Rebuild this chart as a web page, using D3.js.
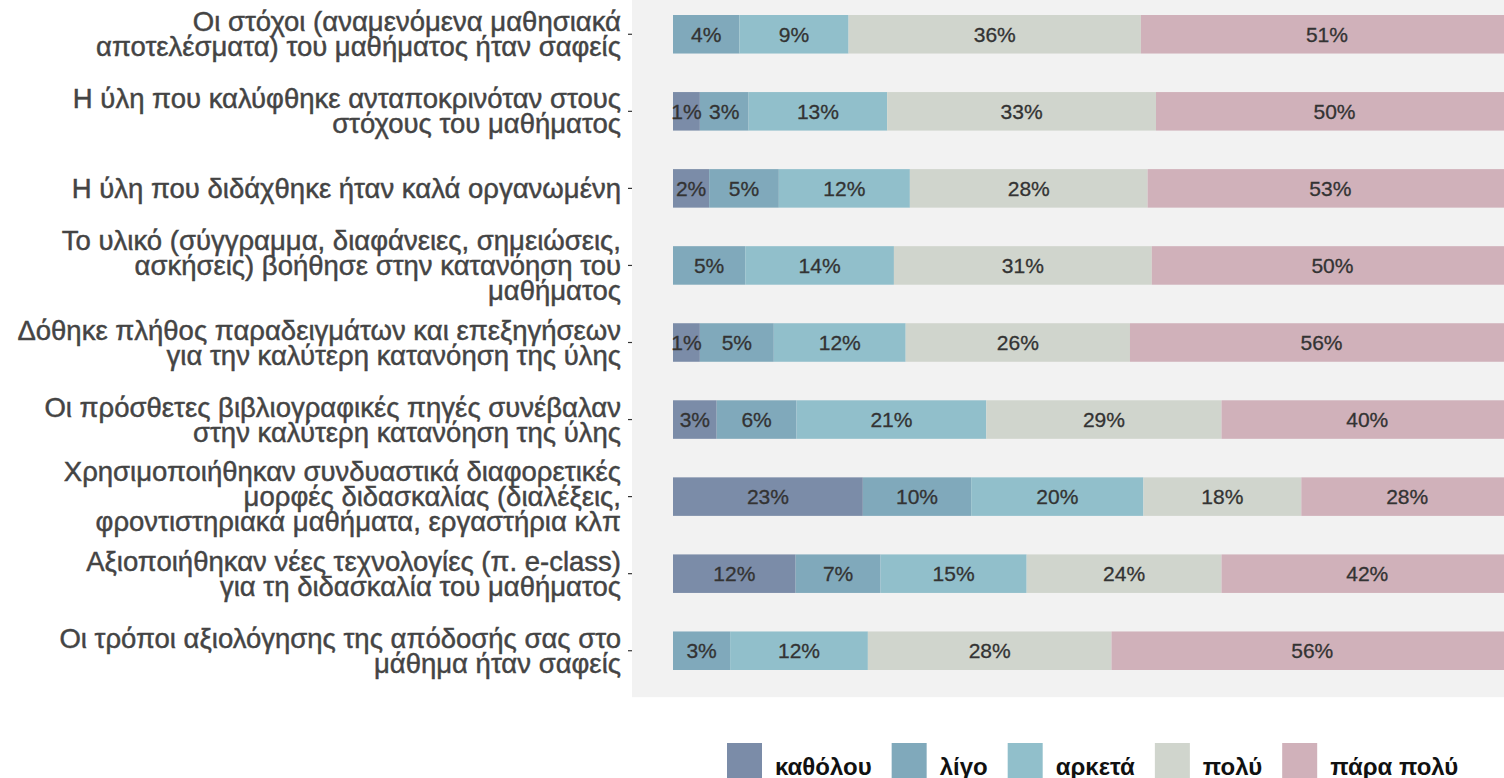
<!DOCTYPE html>
<html>
<head>
<meta charset="utf-8">
<script src="https://cdn.jsdelivr.net/npm/d3@7"></script>
<style>
  html, body { margin: 0; padding: 0; background: #ffffff; }
  svg { display: block; }
</style>
</head>
<body>
<svg id="chart" width="1504" height="778"></svg>
<script>
// ---------------- DATA ----------------
const categories = [
  "Οι στόχοι (αναμενόμενα μαθησιακά|αποτελέσματα) του μαθήματος ήταν σαφείς",
  "Η ύλη που καλύφθηκε ανταποκρινόταν στους|στόχους του μαθήματος",
  "Η ύλη που διδάχθηκε ήταν καλά οργανωμένη",
  "Το υλικό (σύγγραμμα, διαφάνειες, σημειώσεις,|ασκήσεις) βοήθησε στην κατανόηση του|μαθήματος",
  "Δόθηκε πλήθος παραδειγμάτων και επεξηγήσεων|για την καλύτερη κατανόηση της ύλης",
  "Οι πρόσθετες βιβλιογραφικές πηγές συνέβαλαν|στην καλύτερη κατανόηση της ύλης",
  "Χρησιμοποιήθηκαν συνδυαστικά διαφορετικές|μορφές διδασκαλίας (διαλέξεις,|φροντιστηριακά μαθήματα, εργαστήρια κλπ",
  "Αξιοποιήθηκαν νέες τεχνολογίες (π. e-class)|για τη διδασκαλία του μαθήματος",
  "Οι τρόποι αξιολόγησης της απόδοσής σας στο|μάθημα ήταν σαφείς"
];

const levels = ["καθόλου", "λίγο", "αρκετά", "πολύ", "πάρα πολύ"];

// segment lengths as drawn (share of the full bar)
const katholou   = [0.0,  3.2,  4.3,  0.0,  3.2,  5.2, 22.6, 14.6,  0.0];
const ligo       = [7.9,  5.8,  8.3,  8.6,  8.8,  9.5, 12.9, 10.1,  6.8];
const arketa     = [13.0, 16.5, 15.6, 17.7, 15.7, 22.6, 20.5, 17.4, 16.4];
const poly       = [34.8, 32.0, 28.3, 30.7, 26.7, 28.0, 18.8, 23.2, 29.0];
const paraPoly   = [44.3, 42.5, 43.5, 43.0, 45.6, 34.7, 25.2, 34.7, 47.8];

// percentages printed on the segments (null = no label)
const katholouPct = [null, 1, 2, null, 1, 3, 23, 12, null];
const ligoPct     = [4, 3, 5, 5, 5, 6, 10, 7, 3];
const arketaPct   = [9, 13, 12, 14, 12, 21, 20, 15, 12];
const polyPct     = [36, 33, 28, 31, 26, 29, 18, 24, 28];
const paraPolyPct = [51, 50, 53, 50, 56, 40, 28, 42, 56];

const colors = ["#7b8ca8", "#80a9bb", "#91bfcb", "#d0d5cd", "#d0b1ba"];

// ---------------- LAYOUT ----------------
const panel = { left: 632, right: 1504, top: -12.2, bottom: 697.2 };
const barStart = 673, barEnd = 1513;

const svg = d3.select("#chart");

const seriesVals = [katholou, ligo, arketa, poly, paraPoly];
const seriesPct  = [katholouPct, ligoPct, arketaPct, polyPct, paraPolyPct];

const rows = categories.map((c, i) => {
  const r = { cat: c };
  levels.forEach((l, j) => { r[l] = seriesVals[j][i]; });
  return r;
});

const stack = d3.stack().keys(levels)(rows);

const x = d3.scaleLinear().domain([0, 100]).range([barStart, barEnd]);
const y = d3.scaleBand().domain(categories)
  .range([panel.top, panel.bottom]).paddingInner(0.5).paddingOuter(0.353);
const color = d3.scaleOrdinal().domain(levels).range(colors);

// panel background
svg.append("rect")
  .attr("x", panel.left).attr("y", 0)
  .attr("width", panel.right - panel.left).attr("height", panel.bottom)
  .attr("fill", "#f2f2f2");

// bars
const gBars = svg.append("g");
stack.forEach((layer, j) => {
  gBars.selectAll(null).data(layer).enter().append("rect")
    .attr("x", d => x(d[0]))
    .attr("width", d => Math.max(0, x(d[1]) - x(d[0])))
    .attr("y", d => y(d.data.cat))
    .attr("height", y.bandwidth())
    .attr("fill", color(levels[j]));
});

// labels on segments
const segLabels = [];
stack.forEach((layer, j) => {
  layer.forEach((d, i) => {
    if (seriesPct[j][i] !== null) {
      segLabels.push({ x0: d[0], x1: d[1], cat: d.data.cat, pct: seriesPct[j][i] });
    }
  });
});
gBars.selectAll("text.seg").data(segLabels).enter().append("text")
  .attr("class", "seg")
  .attr("x", d => (x(d.x0) + x(d.x1)) / 2)
  .attr("y", d => y(d.cat) + y.bandwidth() / 2)
  .attr("text-anchor", "middle")
  .attr("dominant-baseline", "central")
  .attr("font-family", "Liberation Sans, Arial, sans-serif")
  .attr("font-size", 21)
  .attr("fill", "#333333")
  .attr("stroke", "#333333")
  .attr("stroke-width", 0.3)
  .text(d => d.pct + "%");

// y axis (ticks only) + multi-line labels
const yAxis = d3.axisLeft(y).tickSize(4).tickFormat("");
const gAxis = svg.append("g")
  .attr("transform", `translate(${panel.left},0)`)
  .call(yAxis);
gAxis.select(".domain").remove();
gAxis.selectAll(".tick line").attr("stroke", "#333333").attr("stroke-width", 1.2);

const lineH = 25;
const gLab = svg.append("g");
categories.forEach(c => {
  const lines = c.split("|");
  const cy = y(c) + y.bandwidth() / 2;
  const t = gLab.append("text")
    .attr("text-anchor", "end")
    .attr("font-family", "Liberation Sans, Arial, sans-serif")
    .attr("font-size", 27.5)
    .attr("fill", "#444444")
    .attr("stroke", "#444444")
    .attr("stroke-width", 0.45);
  lines.forEach((ln, k) => {
    t.append("tspan")
      .attr("x", panel.left - 11)
      .attr("y", cy + (k - (lines.length - 1) / 2) * lineH)
      .attr("dominant-baseline", "central")
      .text(ln);
  });
});

// legend
const keySize = 35;
const legend = svg.append("g");
let lx = 727;
levels.forEach(l => {
  legend.append("rect")
    .attr("x", lx).attr("y", 743)
    .attr("width", keySize).attr("height", keySize)
    .attr("fill", color(l));
  const t = legend.append("text")
    .attr("x", lx + keySize + 13)
    .attr("y", 766)
    .attr("dominant-baseline", "central")
    .attr("font-family", "Liberation Sans, Arial, sans-serif")
    .attr("font-weight", "bold")
    .attr("font-size", 24)
    .attr("fill", "#111111")
    .text(l);
  lx = lx + keySize + 13 + t.node().getComputedTextLength() + 20;
});
</script>
</body>
</html>
